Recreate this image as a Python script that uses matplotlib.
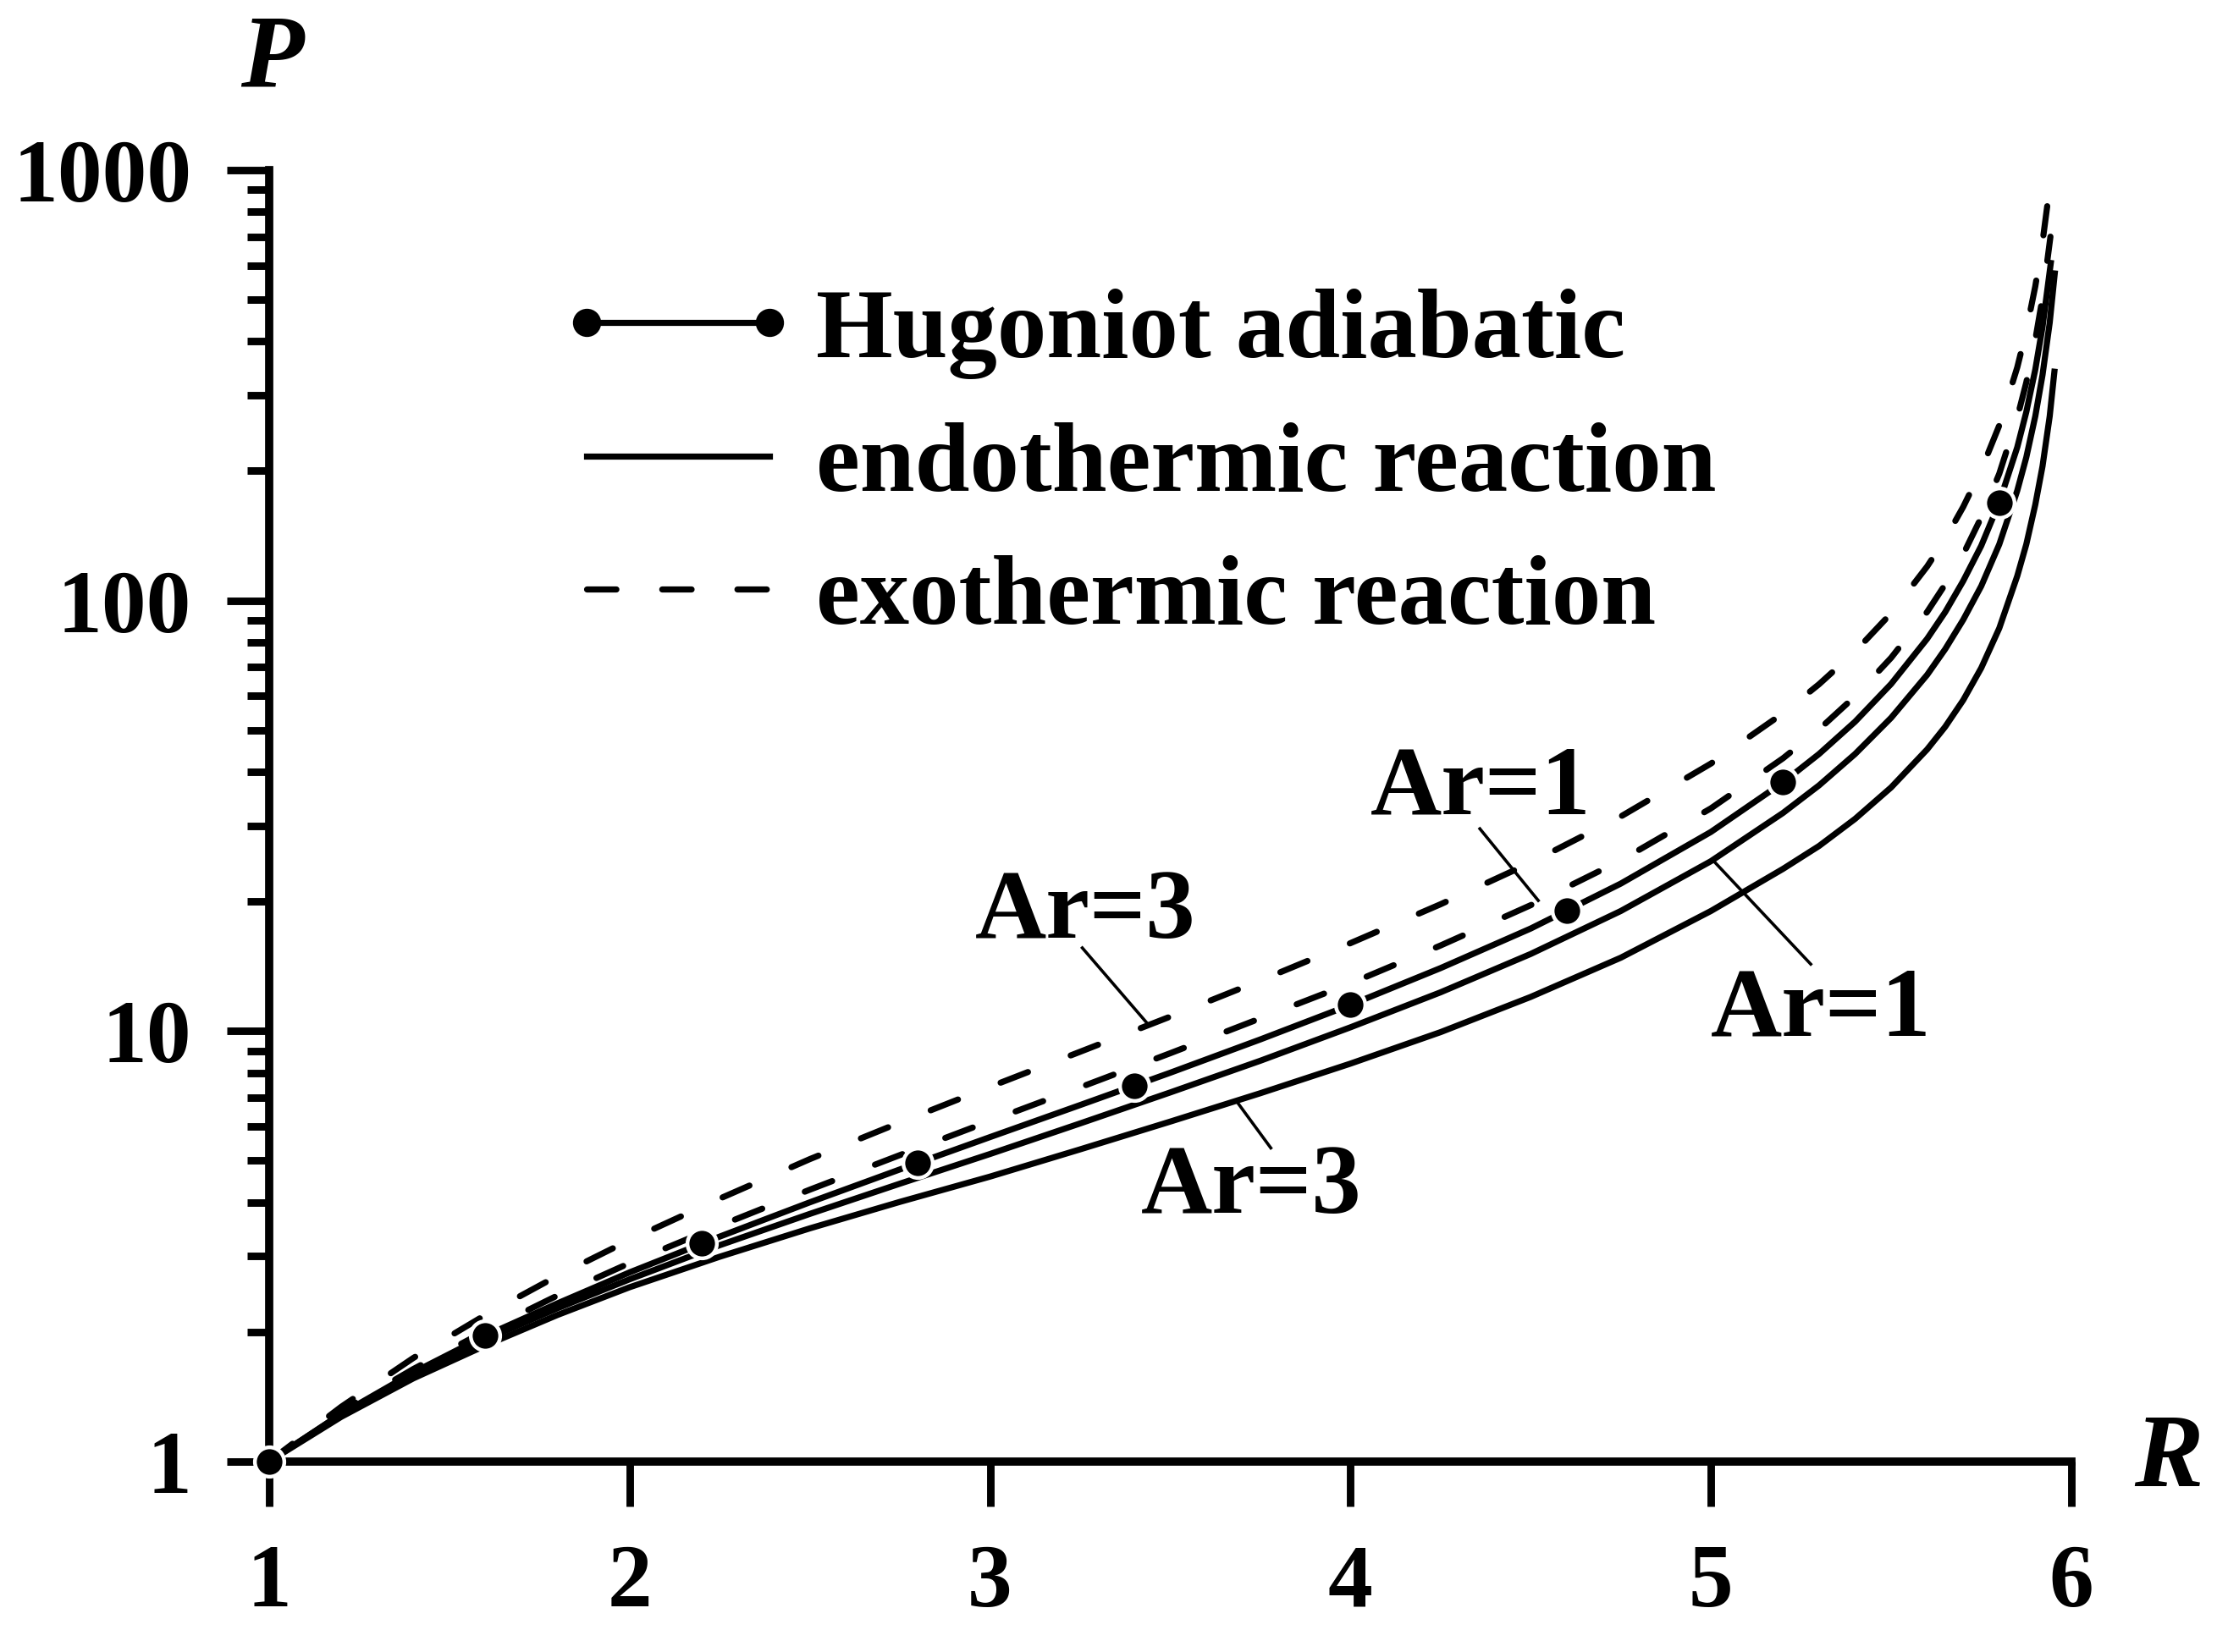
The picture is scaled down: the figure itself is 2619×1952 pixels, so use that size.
import matplotlib
matplotlib.use("Agg")
import matplotlib.pyplot as plt
from matplotlib.lines import Line2D
from matplotlib.ticker import LogLocator, NullFormatter

plt.rcParams['font.family'] = ['Liberation Serif', 'DejaVu Serif']
plt.rcParams['font.weight'] = 'bold'

# values (R = density ratio, P = pressure ratio)
r_grid = [1.0, 1.2, 1.4, 1.6, 1.8, 2.0, 2.25, 2.5, 2.75, 3.0, 3.25, 3.5, 3.75,
          4.0, 4.25, 4.5, 4.75, 5.0, 5.2, 5.3, 5.4, 5.5, 5.6, 5.65, 5.7, 5.75,
          5.8, 5.85, 5.875, 5.9]

hugoniot = [1.0, 1.29, 1.61, 1.96, 2.33, 2.75, 3.33, 4.0, 4.77, 5.67, 6.73, 8.0, 9.56,
            11.5, 14.0, 17.3, 22.0, 29.0, 37.8, 44.0, 52.3, 64.0, 81.5, 94.0, 111, 134,
            169, 227, 274, 344]
hug_tail_r = [5.92, 5.943]
hug_tail_p = [432, 608]

exo_ar3 = [1.0, 1.34, 1.74, 2.19, 2.70, 3.27, 4.08, 5.04, 6.13, 7.42, 8.95, 10.8, 13.1,
           16.0, 19.7, 24.6, 31.5, 41.8, 54.7, 63.9, 76.1, 93.4, 120, 139, 165, 201,
           255, 348, 423, 537]
exo3_tail_r = [5.92, 5.937]
exo3_tail_p = [680, 873]

exo_ar1 = [1.0, 1.31, 1.64, 2.01, 2.43, 2.89, 3.53, 4.28, 5.15, 6.18, 7.40, 8.88, 10.7,
           12.9, 15.8, 19.6, 24.9, 32.9, 43.0, 50.2, 59.9, 73.6, 94.1, 109, 128, 156,
           197, 266, 321, 403]
exo1_tail_r = [5.92, 5.942]
exo1_tail_p = [505, 700]

endo_ar1 = [1.0, 1.29, 1.59, 1.92, 2.27, 2.65, 3.18, 3.76, 4.42, 5.18, 6.10, 7.20, 8.53,
            10.2, 12.3, 15.1, 19.0, 24.8, 32.1, 37.2, 44.0, 53.4, 67.2, 77.1, 90.2, 108,
            135, 180, 215, 268]
endo1_tail_r = [5.92, 5.94, 5.954]
endo1_tail_p = [334, 442, 575]

endo_ar3 = [1.0, 1.27, 1.56, 1.86, 2.19, 2.54, 2.99, 3.48, 4.01, 4.59, 5.31, 6.16, 7.17,
            8.40, 9.94, 12.0, 14.8, 19.0, 23.8, 26.9, 31.1, 36.8, 45.1, 50.9, 58.7, 69.7,
            86.2, 114, 135, 167]
endo3_tail_r = [5.92, 5.94, 5.953]
endo3_tail_p = [205, 268, 340]

marker_r = [1.0, 1.6, 2.2, 2.8, 3.4, 4.0, 4.6, 5.2, 5.8]
marker_p = [1.0, 1.96, 3.21, 4.94, 7.46, 11.5, 19.0, 37.8, 169]

x_ticks = [1, 2, 3, 4, 5, 6]
y_ticks = [1, 10, 100, 1000]
y_tick_labels = ['1', '10', '100', '1000']
legend_labels = ['Hugoniot adiabatic', 'endothermic reaction', 'exothermic reaction']

# curve labels: text, text position, leader start, leader end (on the curve)
ar_labels = ['Ar=3', 'Ar=1', 'Ar=1', 'Ar=3']
ar_text_pos = [(3.265, 18.7), (4.361, 36.3), (5.305, 11.1), (3.726, 4.30)]
ar_lead_from = [(3.256, 15.6), (4.359, 29.5), (5.277, 14.3), (3.779, 5.35)]
ar_lead_to = [(3.437, 10.4), (4.521, 20.1), (5.012, 24.6), (3.685, 6.85)]

lw = 2.6
dash = (0, (4.8, 7.5))

fig = plt.figure(figsize=(13.095, 9.76), dpi=200)
ax = fig.add_axes([0.1214, 0.1153, 0.8129, 0.7818])
ax.set_yscale('log')
ax.set_xlim(1, 6)
ax.set_ylim(1, 1000)

ax.plot(r_grid + exo3_tail_r, exo_ar3 + exo3_tail_p, color='k', lw=lw, ls=dash,
        dash_capstyle='round', clip_on=False)
ax.plot(r_grid + exo1_tail_r, exo_ar1 + exo1_tail_p, color='k', lw=lw, ls=dash,
        dash_capstyle='round', clip_on=False)
ax.plot(r_grid + endo1_tail_r, endo_ar1 + endo1_tail_p, color='k', lw=lw, clip_on=False)
ax.plot(r_grid + endo3_tail_r, endo_ar3 + endo3_tail_p, color='k', lw=lw, clip_on=False)
ax.plot(r_grid + hug_tail_r, hugoniot + hug_tail_p, color='k', lw=lw, clip_on=False)
ax.plot(marker_r, marker_p, 'o', ms=12.5, mfc='k', mec='white', mew=1.6,
        clip_on=False, zorder=5)

for txt, tp, a, b in zip(ar_labels, ar_text_pos, ar_lead_from, ar_lead_to):
    ax.plot([a[0], b[0]], [a[1], b[1]], color='k', lw=1.3)
    ax.text(tp[0], tp[1], txt, fontsize=42, ha='center', va='center')

for s in ['top', 'right']:
    ax.spines[s].set_visible(False)
for s in ['left', 'bottom']:
    ax.spines[s].set_linewidth(3.5)
    ax.spines[s].set_capstyle('projecting')

ax.set_xticks(x_ticks)
ax.set_xticklabels([str(t) for t in x_ticks])
ax.set_yticks(y_ticks)
ax.set_yticklabels(y_tick_labels)
ax.yaxis.set_minor_locator(LogLocator(base=10, subs=range(2, 10)))
ax.yaxis.set_minor_formatter(NullFormatter())
ax.tick_params(axis='x', which='major', direction='out', length=19, width=3.2,
               pad=16, labelsize=38)
ax.tick_params(axis='y', which='major', direction='out', length=18, width=3.2,
               pad=15, labelsize=38)
ax.tick_params(axis='y', which='minor', direction='out', length=9.5, width=3.2)

ax.text(0.0014, 1.084, 'P', transform=ax.transAxes, ha='center', va='center',
        fontsize=44, style='italic')
ax.text(1.054, 0.0, 'R', transform=ax.transAxes, ha='center', va='center',
        fontsize=44, style='italic')

handles = [Line2D([], [], color='k', lw=lw, marker='o', ms=11),
           Line2D([], [], color='k', lw=lw),
           Line2D([], [], color='k', lw=lw, ls=dash, dash_capstyle='round')]
ax.legend(handles, legend_labels, loc='upper left', bbox_to_anchor=(0.2513, 0.8255),
          bbox_transform=fig.transFigure, frameon=False, fontsize=42,
          handlelength=2.45, handletextpad=0.17, labelspacing=0.43, numpoints=2,
          borderpad=0, borderaxespad=0)

fig.savefig('out.png', dpi=200)
